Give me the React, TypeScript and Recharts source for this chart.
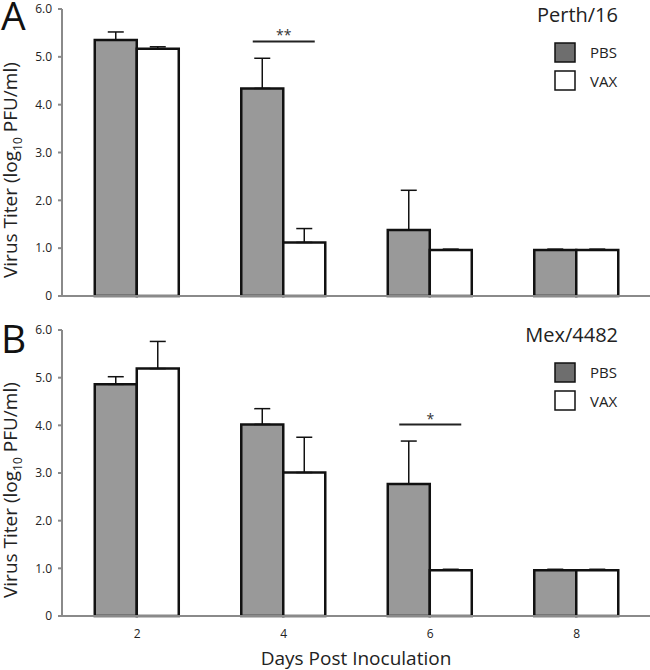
import React from 'react';
import { BarChart, Bar, XAxis, YAxis, ErrorBar, ReferenceDot } from 'recharts';

const days = ['2', '4', '6', '8'];
const yTicks = [0, 1, 2, 3, 4, 5, 6];

// panel A: Perth/16
const pbsA = [5.35, 4.34, 1.38, 0.96];
const pbsErrA = [0.17, 0.63, 0.83, 0.02];
const vaxA = [5.17, 1.12, 0.96, 0.96];
const vaxErrA = [0.04, 0.29, 0.02, 0.02];

// panel B: Mex/4482
const pbsB = [4.86, 4.02, 2.77, 0.96];
const pbsErrB = [0.16, 0.33, 0.9, 0.02];
const vaxB = [5.19, 3.01, 0.96, 0.96];
const vaxErrB = [0.57, 0.74, 0.02, 0.02];

const FONT = '"Open Sans", sans-serif';
const AXIS_GRAY = '#8a8a8a';
const BAR_GRAY = '#999999';
const LEGEND_GRAY = '#6e6e6e';

const buildRows = (pbs: number[], pbsErr: number[], vax: number[], vaxErr: number[]) =>
  days.map((day, i) => ({
    day,
    pbs: pbs[i],
    pbsErr: [0, pbsErr[i]],
    vax: vax[i],
    vaxErr: [0, vaxErr[i]],
  }));

const SigMark = ({ cx, cy, stars, lift }: any) => (
  <g>
    <line x1={cx - 31} x2={cx + 31} y1={cy} y2={cy} stroke="#222" strokeWidth={2} />
    <text x={cx} y={cy - lift} textAnchor="middle" fontSize={14} fill="#333" fontFamily={FONT}>
      {stars}
    </text>
  </g>
);

interface PanelProps {
  letter: string;
  title: string;
  rows: ReturnType<typeof buildRows>;
  sigDay: string;
  sigY: number;
  stars: string;
  lift: number;
  height: number;
  showX: boolean;
}

const Panel = ({ letter, title, rows, sigDay, sigY, stars, lift, height, showX }: PanelProps) => (
  <BarChart
    width={650}
    height={height}
    data={rows}
    margin={{ top: showX ? 10 : 9, right: 0, bottom: 0, left: 0 }}
    barCategoryGap="21%"
    barGap={0}
  >
    <XAxis
      dataKey="day"
      height={showX ? 54 : 14}
      tick={showX ? { fontSize: 12, fill: '#222', fontFamily: FONT } : false}
      tickLine={false}
      tickSize={0}
      tickMargin={13}
      axisLine={{ stroke: AXIS_GRAY, strokeWidth: 2 }}
      padding={{ left: 2, right: 0 }}
    />
    <YAxis
      width={62}
      domain={[0, 6]}
      ticks={yTicks}
      interval={0}
      tickFormatter={(v: number) => (v === 0 ? '0' : v.toFixed(1))}
      tick={{ fontSize: 12, fill: '#222', fontFamily: FONT }}
      tickSize={4}
      tickMargin={6}
      tickLine={{ stroke: AXIS_GRAY, strokeWidth: 2 }}
      axisLine={{ stroke: AXIS_GRAY, strokeWidth: 2 }}
    />
    <Bar dataKey="pbs" fill={BAR_GRAY} stroke="#111" strokeWidth={2.5} isAnimationActive={false}>
      <ErrorBar dataKey="pbsErr" width={8} stroke="#111" strokeWidth={1.5} direction="y" />
    </Bar>
    <Bar dataKey="vax" fill="#ffffff" stroke="#111" strokeWidth={2.5} isAnimationActive={false}>
      <ErrorBar dataKey="vaxErr" width={8} stroke="#111" strokeWidth={1.5} direction="y" />
    </Bar>
    <ReferenceDot
      x={sigDay}
      y={sigY}
      shape={(p: any) => <SigMark cx={p.cx} cy={p.cy} stars={stars} lift={lift} />}
    />

    <text x={1} y={showX ? 33 : 30} fontSize={39} fill="#111" fontFamily={FONT}>
      {letter}
    </text>
    <text
      transform="translate(16.5, 278) rotate(-90)"
      textAnchor="start"
      fontSize={19}
      fill="#222"
      fontFamily={FONT}
    >
      Virus Titer (log
      <tspan fontSize={12} dy={5}>10</tspan>
      <tspan dy={-5}> PFU/ml)</tspan>
    </text>
    <text x={618} y={22} textAnchor="end" fontSize={20} fill="#222" fontFamily={FONT}>
      {title}
    </text>
    <rect x={555} y={43} width={20} height={19} fill={LEGEND_GRAY} stroke="#111" strokeWidth={1.5} />
    <rect x={555} y={71} width={20} height={19} fill="#ffffff" stroke="#111" strokeWidth={1.5} />
    <text x={590} y={58} fontSize={15} fill="#222" fontFamily={FONT}>PBS</text>
    <text x={590} y={87} fontSize={15} fill="#222" fontFamily={FONT}>VAX</text>
    {showX && (
      <text x={356} y={345} textAnchor="middle" fontSize={19} fill="#222" fontFamily={FONT}>
        Days Post Inoculation
      </text>
    )}
  </BarChart>
);

export default function App() {
  return (
    <div style={{ position: 'absolute', left: 0, top: 0, width: 650, height: 670, background: '#fff' }}>
      <Panel
        letter="A"
        title="Perth/16"
        rows={buildRows(pbsA, pbsErrA, vaxA, vaxErrA)}
        sigDay="4"
        sigY={5.32}
        stars="**"
        lift={2}
        height={310}
        showX={false}
      />
      <div style={{ height: 10 }} />
      <Panel
        letter="B"
        title="Mex/4482"
        rows={buildRows(pbsB, pbsErrB, vaxB, vaxErrB)}
        sigDay="6"
        sigY={4.02}
        stars="*"
        lift={0}
        height={350}
        showX={true}
      />
    </div>
  );
}
